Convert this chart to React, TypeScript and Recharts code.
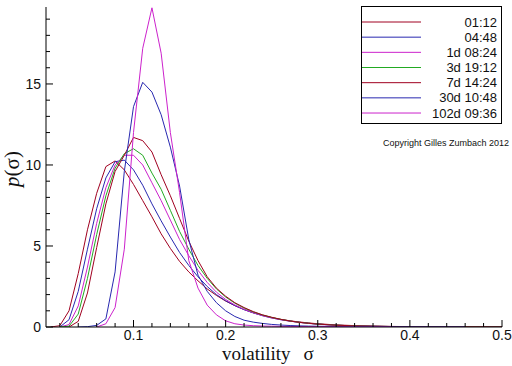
import React from 'react';
import { LineChart, Line, XAxis, YAxis, Legend } from 'recharts';

// volatility grid (x values)
const sigma = [
  0.01, 0.02, 0.03, 0.04, 0.05, 0.06, 0.07, 0.08, 0.09, 0.1,
  0.11, 0.12, 0.13, 0.14, 0.15, 0.16, 0.17, 0.18, 0.19, 0.2,
  0.21, 0.22, 0.23, 0.24, 0.25, 0.26, 0.27, 0.28, 0.29, 0.3,
  0.32, 0.34, 0.36, 0.38, 0.4, 0.42, 0.44, 0.46, 0.48, 0.5,
];

// p(sigma) for each horizon
const p0112 = [
  0, 0.08, 1.0, 3.3, 6.0, 8.25, 9.9, 10.25, 9.7, 8.8,
  7.8, 6.8, 5.75, 4.85, 4.05, 3.4, 2.85, 2.35, 1.95, 1.6,
  1.32, 1.08, 0.88, 0.72, 0.58, 0.47, 0.38, 0.31, 0.25, 0.2,
  0.13, 0.085, 0.055, 0.035, 0.025, 0.018, 0.012, 0.008, 0.005, 0.003,
];
const p0448 = [
  null, 0, 0.45, 2.2, 4.8, 7.3, 9.2, 10.2, 10.3, 9.7,
  8.75, 7.6, 6.55, 5.55, 4.6, 3.8, 3.1, 2.5, 2.0, 1.62,
  1.32, 1.07, 0.87, 0.7, 0.56, 0.45, 0.36, 0.29, 0.23, 0.18,
  0.11, 0.07, 0.045, 0.03, 0.02, 0.013, 0.008, 0.005, 0.003, 0.002,
];
const p1d0824 = [
  null, 0, 0.15, 1.3, 3.7, 6.4, 8.6, 10.0, 10.6, 10.6,
  10.0, 8.9, 7.8, 6.6, 5.4, 4.4, 3.5, 2.75, 2.15, 1.7,
  1.36, 1.09, 0.88, 0.7, 0.56, 0.45, 0.36, 0.28, 0.22, 0.17,
  0.1, 0.065, 0.04, 0.025, 0.016, 0.01, 0.006, 0.004, 0.002, 0.001,
];
const p3d1912 = [
  null, 0, 0.05, 0.8, 3.0, 5.7, 8.1, 9.8, 10.7, 11.0,
  10.6, 9.5, 8.5, 7.2, 5.9, 4.8, 3.8, 3.0, 2.35, 1.85,
  1.47, 1.17, 0.93, 0.74, 0.59, 0.47, 0.37, 0.29, 0.23, 0.18,
  0.11, 0.07, 0.045, 0.03, 0.02, 0.013, 0.008, 0.005, 0.003, 0.002,
];
const p7d1424 = [
  null, null, 0, 0.35, 2.1, 4.9, 7.6, 9.6, 10.6, 11.7,
  11.5, 10.8, 9.4, 8.1, 6.7, 5.3, 4.1, 3.1, 2.4, 1.9,
  1.5, 1.2, 0.95, 0.75, 0.6, 0.47, 0.37, 0.29, 0.23, 0.18,
  0.11, 0.07, 0.045, 0.03, 0.02, 0.013, 0.008, 0.005, 0.003, 0.002,
];
const p30d1048 = [
  null, null, null, 0, 0.02, 0.1, 0.5, 3.4, 9.6, 13.6,
  15.1, 14.5, 13.1, 11.1, 8.7, 5.4, 3.2, 2.2, 1.5, 1.0,
  0.65, 0.42, 0.3, 0.22, 0.16, 0.12, 0.09, 0.07, 0.055, 0.045,
  0.03, 0.02, 0.015, 0.01, 0.008, 0.005, 0.003, 0, null, null,
];
const p102d0936 = [
  null, null, null, null, null, 0, 0.2, 1.2, 4.8, 12.0,
  17.2, 19.7, 16.9, 12.0, 8.3, 4.1, 2.4, 1.35, 0.75, 0.38,
  0.2, 0.12, 0.08, 0.06, 0.05, 0.04, 0.035, 0.03, 0.025, 0.02,
  0.015, 0.01, 0.005, 0, null, null, null, null, null, null,
];

const seriesNames = ['01:12', '04:48', '1d 08:24', '3d 19:12', '7d 14:24', '30d 10:48', '102d 09:36'];
const seriesColors = ['#a00020', '#2828b0', '#cc22cc', '#22aa22', '#a00020', '#2828b0', '#cc22cc'];
const seriesValues = [p0112, p0448, p1d0824, p3d1912, p7d1424, p30d1048, p102d0936];

const yTickValues = [0, 1, 2, 3, 4, 5, 6, 7, 8, 9, 10, 11, 12, 13, 14, 15, 16, 17, 18, 19];
const yTickLabels = [0, 5, 10, 15];
const xTickValues = [
  0.02, 0.04, 0.06, 0.08, 0.1, 0.12, 0.14, 0.16, 0.18, 0.2,
  0.22, 0.24, 0.26, 0.28, 0.3, 0.32, 0.34, 0.36, 0.38, 0.4,
  0.42, 0.44, 0.46, 0.48, 0.5,
];
const xTickLabels = ['0.1', '0.2', '0.3', '0.4', '0.5'];

const copyright = 'Copyright Gilles Zumbach 2012';

const data = sigma.map((s, i) => {
  const row: Record<string, number | null> = { sigma: s };
  seriesValues.forEach((arr, k) => {
    row['s' + k] = arr[i];
  });
  return row;
});

const SANS = '"Liberation Sans", Arial, Helvetica, sans-serif';
const SERIF = '"Liberation Serif", "Times New Roman", serif';

const renderXTick = (props: any) => {
  const { x, y, payload } = props;
  const v = payload.value as number;
  const label = xTickLabels.find((l) => Math.abs(parseFloat(l) - v) < 1e-9);
  return (
    <g>
      <line x1={x} x2={x} y1={y} y2={y - (label ? 7 : 4)} stroke="#000" strokeWidth={1} />
      {label && (
        <text x={x} y={y + 13} textAnchor="middle" fontSize={14} fontFamily={SANS} fill="#111">
          {label}
        </text>
      )}
    </g>
  );
};

const renderYTick = (props: any) => {
  const { x, y, payload } = props;
  const v = payload.value as number;
  const major = yTickLabels.includes(v);
  return (
    <g>
      <line x1={x} x2={x + (major ? 7 : 4)} y1={y} y2={y} stroke="#000" strokeWidth={1} />
      {major && (
        <text x={x - 5} y={y + 5} textAnchor="end" fontSize={14} fontFamily={SANS} fill="#111">
          {String(v)}
        </text>
      )}
    </g>
  );
};

const XLabel = () => (
  <text x={222} y={359.5} fontSize={19} fontFamily={SERIF} fill="#111">
    volatility
    <tspan dx={13}>σ</tspan>
  </text>
);

const YLabel = () => (
  <text
    x={19}
    y={169}
    transform="rotate(-90 19 169)"
    textAnchor="middle"
    fontSize={21}
    fontFamily={SERIF}
    fill="#111"
  >
    <tspan fontStyle="italic">p</tspan>(σ)
  </text>
);

const LegendBox = () => (
  <svg width={151} height={145} style={{ display: 'block' }}>
    <rect x={0.5} y={0.5} width={140} height={117} fill="#fff" stroke="#000" strokeWidth={1} />
    {seriesNames.map((name, i) => {
      const cy = 16 + i * 15.17;
      return (
        <g key={name}>
          <line x1={1} x2={60} y1={cy} y2={cy} stroke={seriesColors[i]} strokeWidth={1} />
          <text x={136} y={cy + 4.5} textAnchor="end" fontSize={13} fontFamily={SANS} fill="#111">
            {name}
          </text>
        </g>
      );
    })}
    <text x={148} y={140} textAnchor="end" fontSize={9} fontFamily={SANS} fill="#111">
      {copyright}
    </text>
  </svg>
);

export default function App() {
  return (
    <div style={{ position: 'absolute', left: 0, top: 0, width: 512, height: 366, background: '#fff' }}>
      <LineChart width={512} height={366} data={data} margin={{ top: 7, right: 10, left: 0, bottom: 9 }}>
        <XAxis
          dataKey="sigma"
          type="number"
          domain={[0.005, 0.5]}
          ticks={xTickValues}
          interval={0}
          tickLine={false}
          tickSize={0}
          tickMargin={0}
          axisLine={{ stroke: '#000' }}
          tick={renderXTick}
          height={30}
          label={XLabel}
          allowDataOverflow
        />
        <YAxis
          type="number"
          domain={[0, 19.75]}
          ticks={yTickValues}
          interval={0}
          tickLine={false}
          tickSize={0}
          tickMargin={0}
          axisLine={{ stroke: '#000' }}
          tick={renderYTick}
          width={46}
          label={YLabel}
          allowDataOverflow
        />
        {seriesNames.map((name, k) => (
          <Line
            key={name}
            dataKey={'s' + k}
            name={name}
            type="linear"
            stroke={seriesColors[k]}
            strokeWidth={1}
            dot={false}
            activeDot={false}
            isAnimationActive={false}
          />
        ))}
        <Legend
          layout="vertical"
          align="center"
          verticalAlign="middle"
          content={LegendBox}
          wrapperStyle={{ left: 361, top: 6, width: 151, height: 145, margin: 0 }}
        />
      </LineChart>
    </div>
  );
}
